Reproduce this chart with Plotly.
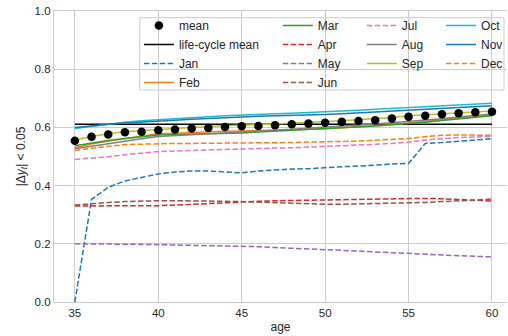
import plotly.graph_objects as go

# ages on the horizontal axis
ages = list(range(35, 61))

# share of years with |Δy_t| < 0.05, averaged over all months
mean_share = [0.554, 0.568, 0.576, 0.583, 0.585, 0.590, 0.593, 0.596, 0.598, 0.601,
              0.604, 0.605, 0.607, 0.611, 0.613, 0.616, 0.619, 0.622, 0.625, 0.631,
              0.637, 0.640, 0.645, 0.649, 0.652, 0.654]
lifecycle_mean = 0.611

# per-month series
jan = [0.000, 0.353, 0.394, 0.416, 0.428, 0.440, 0.447, 0.450, 0.450, 0.446,
       0.444, 0.450, 0.454, 0.457, 0.458, 0.462, 0.465, 0.467, 0.471, 0.474,
       0.476, 0.545, 0.548, 0.552, 0.557, 0.561]
feb = [0.530, 0.543, 0.553, 0.561, 0.569, 0.578, 0.580, 0.583, 0.585, 0.587,
       0.588, 0.590, 0.591, 0.593, 0.594, 0.595, 0.598, 0.602, 0.606, 0.610,
       0.614, 0.620, 0.627, 0.633, 0.638, 0.643]
mar = [0.537, 0.547, 0.555, 0.562, 0.568, 0.574, 0.576, 0.577, 0.579, 0.580,
       0.581, 0.584, 0.587, 0.590, 0.592, 0.594, 0.597, 0.601, 0.605, 0.609,
       0.613, 0.618, 0.624, 0.630, 0.635, 0.640]
apr = [0.330, 0.330, 0.330, 0.331, 0.331, 0.331, 0.333, 0.336, 0.339, 0.342,
       0.344, 0.346, 0.348, 0.349, 0.350, 0.350, 0.351, 0.352, 0.354, 0.356,
       0.357, 0.356, 0.355, 0.353, 0.350, 0.347]
may = [0.200, 0.200, 0.200, 0.199, 0.198, 0.197, 0.196, 0.195, 0.194, 0.193,
       0.192, 0.190, 0.187, 0.185, 0.183, 0.181, 0.178, 0.175, 0.172, 0.169,
       0.166, 0.164, 0.162, 0.159, 0.157, 0.155]
jun = [0.333, 0.338, 0.342, 0.345, 0.347, 0.348, 0.348, 0.348, 0.347, 0.346,
       0.345, 0.343, 0.340, 0.338, 0.337, 0.336, 0.336, 0.337, 0.337, 0.338,
       0.339, 0.342, 0.345, 0.347, 0.350, 0.354]
jul = [0.490, 0.494, 0.499, 0.506, 0.512, 0.517, 0.519, 0.521, 0.523, 0.525,
       0.527, 0.528, 0.529, 0.530, 0.532, 0.534, 0.536, 0.539, 0.542, 0.545,
       0.549, 0.557, 0.562, 0.565, 0.567, 0.569]
aug = [0.527, 0.536, 0.545, 0.553, 0.561, 0.569, 0.572, 0.575, 0.578, 0.580,
       0.582, 0.586, 0.590, 0.594, 0.597, 0.600, 0.604, 0.608, 0.612, 0.616,
       0.620, 0.625, 0.630, 0.636, 0.641, 0.646]
sep = [0.557, 0.569, 0.578, 0.585, 0.589, 0.593, 0.597, 0.600, 0.603, 0.606,
       0.609, 0.610, 0.612, 0.614, 0.616, 0.620, 0.623, 0.626, 0.629, 0.634,
       0.640, 0.643, 0.647, 0.651, 0.654, 0.656]
oct_ = [0.596, 0.604, 0.612, 0.618, 0.623, 0.627, 0.630, 0.633, 0.637, 0.640,
        0.643, 0.645, 0.647, 0.649, 0.651, 0.653, 0.656, 0.659, 0.662, 0.665,
        0.668, 0.671, 0.674, 0.677, 0.680, 0.683]
nov = [0.600, 0.606, 0.611, 0.615, 0.619, 0.622, 0.625, 0.628, 0.631, 0.634,
       0.637, 0.638, 0.640, 0.641, 0.643, 0.644, 0.647, 0.650, 0.653, 0.657,
       0.660, 0.663, 0.666, 0.669, 0.672, 0.674]
dec = [0.521, 0.529, 0.535, 0.541, 0.543, 0.544, 0.545, 0.545, 0.546, 0.546,
       0.546, 0.547, 0.547, 0.548, 0.548, 0.549, 0.551, 0.553, 0.556, 0.559,
       0.562, 0.568, 0.573, 0.574, 0.574, 0.573]

month_names = ["Jan", "Feb", "Mar", "Apr", "May", "Jun",
               "Jul", "Aug", "Sep", "Oct", "Nov", "Dec"]
month_series = [jan, feb, mar, apr, may, jun, jul, aug, sep, oct_, nov, dec]
month_colors = ["#1f77b4", "#ff7f0e", "#2ca02c", "#d62728", "#9467bd", "#8c564b",
                "#e377c2", "#7f7f7f", "#bcbd22", "#17becf", "#1f77b4", "#ff7f0e"]
month_dashed = [True, False, False, True, True, True,
                True, False, False, False, False, True]
# legend column for each month (four-column legend box)
month_legend = ["legend", "legend", "legend2", "legend2", "legend2", "legend2",
                "legend3", "legend3", "legend3", "legend4", "legend4", "legend4"]

DASH = "5.5px,2.4px"
FONT = "Liberation Sans, Arial, sans-serif"
TEXT = "#262626"
GRID = "#cccccc"

fig = go.Figure()

fig.add_trace(go.Scatter(
    x=ages, y=[lifecycle_mean] * len(ages), mode="lines", name="life-cycle mean",
    line=dict(color="black", width=1.5), legend="legend", legendrank=2))

for i, (name, ys, col, dashed, lg) in enumerate(
        zip(month_names, month_series, month_colors, month_dashed, month_legend)):
    fig.add_trace(go.Scatter(
        x=ages, y=ys, mode="lines", name=name,
        line=dict(color=col, width=1.5, dash=DASH if dashed else "solid"),
        legend=lg, legendrank=10 + i))

fig.add_trace(go.Scatter(
    x=ages, y=mean_share, mode="markers", name="mean",
    marker=dict(color="black", size=8.5), legend="legend", legendrank=1))

# legend frame shared by the four legend columns
fig.add_shape(type="rect", xref="paper", yref="paper",
              x0=0.1894, x1=0.9934, y0=0.7285, y1=0.977,
              line=dict(color=GRID, width=1), fillcolor="rgba(255,255,255,0.8)",
              layer="between")

legend_common = dict(bgcolor="rgba(0,0,0,0)", borderwidth=0,
                     font=dict(family=FONT, size=12, color=TEXT),
                     yanchor="top", xanchor="left", y=1.0,
                     orientation="v", itemwidth=30, tracegroupgap=0)

fig.update_layout(
    width=508, height=336,
    margin=dict(l=54, r=0, t=11, b=34),
    paper_bgcolor="white", plot_bgcolor="white",
    font=dict(family=FONT, size=12, color=TEXT),
    showlegend=True,
    legend=dict(x=0.187, **legend_common),
    legend2=dict(x=0.493, **legend_common),
    legend3=dict(x=0.678, **legend_common),
    legend4=dict(x=0.855, **legend_common),
    xaxis=dict(range=[33.75, 60.9], tickvals=[35, 40, 45, 50, 55, 60],
               showgrid=True, gridcolor=GRID, gridwidth=1,
               showline=True, linecolor=GRID, linewidth=1.25, mirror=True,
               zeroline=False, ticks="", tickfont=dict(size=11.5, color=TEXT),
               title=dict(text="age", font=dict(size=12, color=TEXT), standoff=4)),
    yaxis=dict(range=[0, 1], tickvals=[0, 0.2, 0.4, 0.6, 0.8, 1.0],
               tickformat=".1f",
               showgrid=True, gridcolor=GRID, gridwidth=1,
               showline=True, linecolor=GRID, linewidth=1.25,
               zeroline=False, ticks="", tickfont=dict(size=11.5, color=TEXT),
               title=dict(text="|Δ<i>y</i><sub><i>t</i></sub>| &lt; 0.05",
                          font=dict(size=12, color=TEXT), standoff=6)),
)

fig.write_html("out.html")
